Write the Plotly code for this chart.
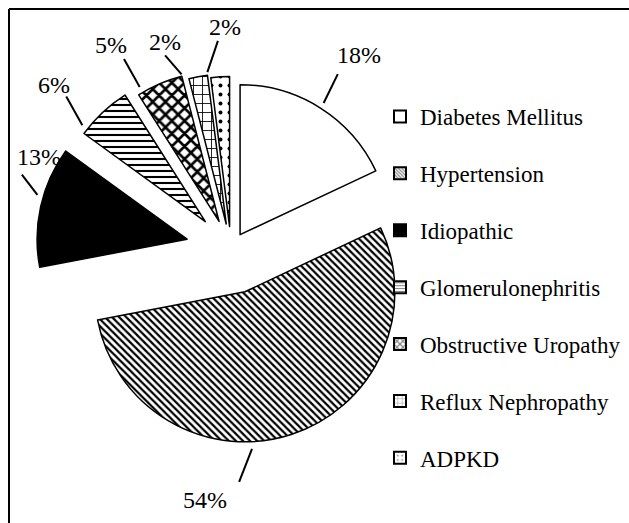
import math
import plotly.graph_objects as go

# ---------------- data ----------------
categories = ["Diabetes Mellitus", "Hypertension", "Idiopathic", "Glomerulonephritis",
              "Obstructive Uropathy", "Reflux Nephropathy", "ADPKD"]
values = [18, 54, 13, 6, 5, 2, 2]
percent_labels = [f"{v}%" for v in values]

# ---------------- styles ----------------
pulls = [0.113, 0.30, 0.30, 0.25, 0.20, 0.17, 0.15]
fill_colors = ["white", "white", "black", "white", "white", "white", "white"]
pattern_shapes = ["", "\\", "", "-", "x", "+", "."]
pattern_sizes = [8, 5, 8, 6, 9, 9, 9]
pattern_solid = [0.3, 0.45, 0.3, 0.35, 0.5, 0.18, 0.15]

# label / leader-line nudges (degrees, px beyond slice edge)
line_start_shift = [0, 12, 3, -7, -6, -5, -4]
line_end_shift = [-1, 16, 7, -4, -6, -8, 0]
label_shift = [1, 24, 13, -4, -7, -7, 2]
line_start_gap = 6
line_end_gap = [38, 38, 27, 37, 38, 29, 36]
label_gap = [65, 57, 18, 54, 57, 42, 50]

FONT = "Liberation Serif, Times New Roman, serif"
W, H = 629, 523
CX, CY = 231, 249        # pie centre in px
R = 150                  # pie radius in px

maxpull = max(pulls)
half = R * (1 + maxpull)


def px(x):
    return x / W


def py(y):
    return 1 - y / H


def polar(theta_deg, r):
    t = math.radians(theta_deg)
    return CX + r * math.sin(t), CY - r * math.cos(t)


fig = go.Figure()

fig.add_trace(go.Pie(
    labels=categories, values=values, sort=False, direction="clockwise", rotation=0,
    pull=pulls, textinfo="none", showlegend=False, hoverinfo="label+percent",
    marker=dict(colors=fill_colors, line=dict(color="black", width=1.5),
                pattern=dict(shape=pattern_shapes, size=pattern_sizes,
                             solidity=pattern_solid, fgcolor="black")),
    domain=dict(x=[px(CX - half), px(CX + half)], y=[py(CY + half), py(CY - half)]),
))

# legend entries (patterned swatches)
for i, name in enumerate(categories):
    fig.add_trace(go.Bar(
        x=[None], y=[None], name=name, legendgroup=name, showlegend=True,
        marker=dict(color=fill_colors[i], line=dict(color="black", width=2),
                    pattern=dict(shape=pattern_shapes[i], size=pattern_sizes[i] * 0.6,
                                 solidity=pattern_solid[i], fgcolor="black")),
    ))

# percentage labels with leader lines computed from the slice angles
total = sum(values)
cum = 0
annotations = []
shapes = []
for i, v in enumerate(values):
    mid = (cum + v / 2) / total * 360
    cum += v
    rout = R * (1 + pulls[i])
    x0, y0 = polar(mid + line_start_shift[i], rout + line_start_gap)
    x1, y1 = polar(mid + line_end_shift[i], rout + line_end_gap[i])
    xl, yl = polar(mid + label_shift[i], rout + label_gap[i])
    shapes.append(dict(type="line", xref="paper", yref="paper",
                       x0=px(x0), y0=py(y0), x1=px(x1), y1=py(y1),
                       line=dict(color="black", width=2)))
    annotations.append(dict(text=percent_labels[i], xref="paper", yref="paper",
                            x=px(xl), y=py(yl), xanchor="center", yanchor="middle",
                            showarrow=False, font=dict(family=FONT, size=24, color="black")))

# frame (top and left edges)
shapes.append(dict(type="line", xref="paper", yref="paper", x0=px(9), y0=py(9), x1=px(W), y1=py(9),
                   line=dict(color="black", width=2)))
shapes.append(dict(type="line", xref="paper", yref="paper", x0=px(9), y0=py(9), x1=px(9), y1=py(H),
                   line=dict(color="black", width=2)))

fig.update_layout(
    width=W, height=H,
    margin=dict(l=0, r=0, t=0, b=0, autoexpand=False),
    paper_bgcolor="white", plot_bgcolor="white",
    xaxis=dict(visible=False), yaxis=dict(visible=False),
    showlegend=True,
    legend=dict(x=px(380), y=py(95), xanchor="left", yanchor="top",
                font=dict(family=FONT, size=23, color="black"),
                tracegroupgap=24, bgcolor="rgba(0,0,0,0)"),
    annotations=annotations, shapes=shapes,
)

fig.write_html("out.html", config={"displayModeBar": False},
               post_script="document.body.style.margin='0px';document.body.style.overflow='hidden';")
